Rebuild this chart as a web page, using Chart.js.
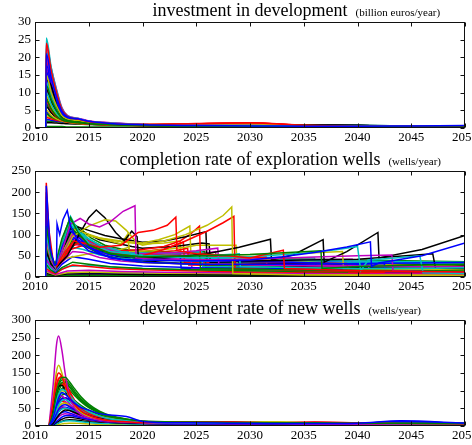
<!DOCTYPE html>
<html>
<head>
<meta charset="utf-8">
<script src="https://cdn.jsdelivr.net/npm/chart.js@4.4.1/dist/chart.umd.min.js"></script>
<style>
  html, body { margin: 0; padding: 0; background: #fff; width: 472px; height: 445px; overflow: hidden; }
  .panel { position: absolute; left: 0; width: 500px; height: 150px; }
  canvas { display: block; }
</style>
</head>
<body>
<div class="panel" style="top:0px"><canvas id="invest" width="500" height="150"></canvas></div>
<div class="panel" style="top:149px"><canvas id="completion" width="500" height="150"></canvas></div>
<div class="panel" style="top:298px"><canvas id="develop" width="500" height="150"></canvas></div>
<script>
// ---- tick labels ----
const yearTicks = [2010, 2015, 2020, 2025, 2030, 2035, 2040, 2045, 2050];
const investTicks = [0, 5, 10, 15, 20, 25, 30];
const completionTicks = [0, 50, 100, 150, 200, 250];
const developTicks = [0, 50, 100, 150, 200, 250, 300];

// ---- panel titles ----
const investTitle = ['investment in development', '(billion euros/year)'];
const completionTitle = ['completion rate of exploration wells', '(wells/year)'];
const developTitle = ['development rate of new wells', '(wells/year)'];

// colour cycle for the simulation runs
const runColors = ['#0000ff', '#008000', '#ff0000', '#00bfbf', '#bf00bf', '#bfbf00', '#000000'];

// ---- investment in development (billion euros/year), one row per run ----
const investYears = [2011, 2011.05, 2011.5, 2012, 2012.5, 2013, 2014, 2015, 2017, 2020, 2025, 2030, 2035, 2040, 2045, 2050];
const investRuns = [
  [0, 21, 14.3, 8.8, 4.8, 3.2, 2.6, 1.9, 1.3, 0.9, 0.7, 0.6, 0.5, 0.5, 0.6, 0.7],
  [0, 12, 8.2, 5.0, 2.8, 2.1, 1.7, 1.3, 1.0, 0.8, 0.6, 0.5, 0.4, 0.4, 0.3, 0.3],
  [0, 24, 16.3, 10.1, 5.3, 3.4, 2.5, 1.8, 1.3, 1.0, 1.2, 1.4, 0.8, 0.5, 0.4, 0.4],
  [0, 25.5, 17.3, 10.7, 5.6, 3.5, 2.7, 1.9, 1.4, 1.0, 0.8, 0.7, 0.6, 0.6, 0.5, 0.5],
  [0, 23, 17, 11, 5.8, 3.6, 2.8, 2.0, 1.5, 1.0, 0.8, 0.7, 0.6, 0.5, 0.5, 0.4],
  [0, 15, 10.2, 6.3, 3.5, 2.5, 2.1, 1.6, 1.2, 0.9, 1.0, 1.1, 0.7, 0.5, 0.4, 0.4],
  [0, 13.5, 12, 6.5, 3.3, 2.4, 1.9, 1.4, 1.1, 0.8, 0.7, 0.6, 0.8, 0.7, 0.5, 0.4],
  [0, 18, 12.2, 7.6, 4.1, 2.9, 2.4, 1.8, 1.3, 0.9, 0.7, 0.6, 0.5, 0.4, 0.4, 0.4],
  [0, 8, 5.4, 3.4, 2.3, 1.8, 1.5, 1.2, 1.0, 0.7, 0.6, 0.5, 0.4, 0.4, 0.3, 0.3],
  [0, 7.5, 5.1, 3.2, 2.2, 1.7, 1.4, 1.1, 0.9, 0.7, 0.9, 1.2, 0.6, 0.4, 0.3, 0.3],
  [0, 10, 6.8, 4.2, 2.6, 1.9, 1.6, 1.3, 1.0, 0.8, 0.6, 0.6, 0.5, 0.7, 0.6, 0.5],
  [0, 20, 13.6, 8.4, 4.6, 3.1, 2.5, 1.9, 1.4, 1.0, 0.8, 0.7, 0.5, 0.5, 0.4, 0.4],
  [0, 5, 3.6, 2.6, 2.0, 1.6, 1.3, 1.1, 0.9, 0.7, 0.7, 0.9, 0.6, 0.4, 0.3, 0.3],
  [0, 6, 4.3, 3.0, 2.2, 1.7, 1.4, 1.1, 0.9, 0.7, 0.6, 0.5, 0.7, 0.8, 0.5, 0.4],
  [0, 16, 10.9, 6.7, 3.7, 2.6, 2.2, 1.7, 1.2, 0.9, 0.7, 0.6, 0.5, 0.5, 0.6, 0.6],
  [0, 4, 3.1, 2.5, 2.0, 1.7, 1.5, 1.2, 1.0, 0.8, 0.6, 0.5, 0.4, 0.4, 0.3, 0.3],
  [0, 3, 2.6, 2.2, 1.9, 1.7, 1.5, 1.3, 1.1, 0.9, 1.1, 1.3, 0.7, 0.5, 0.4, 0.3],
  [0, 13, 8.8, 5.5, 3.1, 2.2, 1.8, 1.4, 1.1, 0.8, 0.7, 0.6, 0.5, 0.6, 0.6, 0.5],
  [0, 17, 11.6, 7.1, 3.9, 2.8, 2.3, 1.7, 1.3, 0.9, 0.8, 0.7, 0.6, 0.5, 0.4, 0.4],
  [0, 9, 6.1, 3.8, 2.4, 1.9, 1.6, 1.3, 1.0, 0.8, 0.9, 1.0, 0.6, 0.4, 0.4, 0.3],
  [0, 11, 7.5, 4.6, 2.8, 2.1, 1.7, 1.3, 1.0, 0.8, 0.6, 0.6, 0.8, 0.7, 0.5, 0.4],
  [0, 2.5, 2.2, 2.0, 1.8, 1.6, 1.4, 1.2, 1.0, 0.8, 0.6, 0.5, 0.5, 0.4, 0.5, 0.6],
  [0, 6.5, 4.5, 3.1, 2.2, 1.7, 1.4, 1.1, 0.9, 0.7, 0.6, 0.5, 0.4, 0.4, 0.3, 0.3],
  [0, 19, 12.9, 8.0, 4.4, 3.0, 2.4, 1.8, 1.3, 1.0, 1.3, 1.5, 0.8, 0.5, 0.4, 0.4],
  [0, 22, 15, 9.2, 5.0, 3.3, 2.6, 1.9, 1.4, 1.0, 0.8, 0.7, 0.6, 0.6, 0.5, 0.5],
  [0, 10.5, 7.1, 4.4, 2.7, 2.0, 1.6, 1.3, 1.0, 0.8, 0.7, 0.6, 0.5, 0.5, 0.4, 0.4],
  [0, 3.5, 2.9, 2.4, 2.0, 1.7, 1.4, 1.2, 1.0, 0.8, 0.8, 1.0, 0.6, 0.4, 0.3, 0.3],
  [0, 1.5, 1.5, 1.4, 1.3, 1.2, 1.1, 1.0, 0.9, 0.7, 0.6, 0.5, 0.6, 0.7, 0.5, 0.4],
  [0, 4.5, 3.4, 2.6, 2.1, 1.8, 1.5, 1.2, 1.0, 0.8, 0.6, 0.5, 0.5, 0.4, 0.4, 0.5],
  [0, 0.4, 0.4, 0.4, 0.4, 0.3, 0.3, 0.3, 0.3, 0.3, 0.3, 0.3, 0.3, 0.2, 0.2, 0.2],
  [0, 21.5, 14.6, 9.0, 4.9, 3.2, 2.6, 1.9, 1.3, 1.0, 1.1, 1.3, 0.7, 0.5, 0.4, 0.4],
  [0, 15.5, 10.5, 6.5, 3.6, 2.6, 2.1, 1.6, 1.2, 0.9, 0.7, 0.6, 0.5, 0.6, 0.6, 0.5],
  [0, 24.5, 16.7, 10.3, 5.4, 3.5, 2.7, 2.0, 1.4, 1.0, 0.8, 0.7, 0.6, 0.5, 0.5, 0.4],
  [0, 12.5, 8.5, 5.3, 3.0, 2.2, 1.9, 1.4, 1.1, 0.8, 0.9, 1.0, 0.6, 0.4, 0.4, 0.3],
  [0, 8.5, 5.8, 3.6, 2.4, 1.8, 1.5, 1.2, 1.0, 0.7, 0.6, 0.5, 0.8, 0.7, 0.5, 0.4],
  [0, 13.5, 9.2, 5.7, 3.2, 2.3, 1.9, 1.5, 1.1, 0.8, 0.7, 0.6, 0.5, 0.5, 0.5, 0.6],
  [0, 10, 6.8, 4.2, 2.6, 2.0, 1.7, 1.3, 1.0, 0.8, 0.6, 0.5, 0.4, 0.4, 0.3, 0.3],
  [0, 16.5, 11.2, 6.9, 3.8, 2.7, 2.2, 1.7, 1.2, 0.9, 1.2, 1.4, 0.7, 0.5, 0.4, 0.4],
  [0, 19.5, 13.3, 8.2, 4.5, 3.0, 2.5, 1.8, 1.3, 0.9, 0.8, 0.7, 0.6, 0.7, 0.6, 0.5],
  [0, 14.5, 9.9, 6.1, 3.4, 2.5, 2.0, 1.5, 1.2, 0.9, 0.7, 0.6, 0.5, 0.5, 0.4, 0.4],
  [0, 20.5, 13.9, 8.6, 4.7, 3.1, 2.5, 1.9, 1.4, 1.0, 1.0, 1.1, 0.7, 0.5, 0.4, 0.4],
  [0, 4, 3.2, 2.6, 2.1, 1.8, 1.6, 1.3, 1.0, 0.8, 0.6, 0.5, 0.8, 0.7, 0.5, 0.4],
  [0, 7, 4.8, 3.2, 2.3, 1.8, 1.5, 1.2, 1.0, 0.8, 0.6, 0.5, 0.5, 0.4, 0.5, 0.6],
  [0, 2, 1.9, 1.8, 1.7, 1.5, 1.3, 1.1, 0.9, 0.7, 0.6, 0.5, 0.4, 0.4, 0.3, 0.3],
  [0, 11.5, 7.8, 4.8, 2.9, 2.1, 1.7, 1.3, 1.0, 0.8, 1.0, 1.2, 0.6, 0.4, 0.4, 0.3]
];

// ---- completion rate of exploration wells (wells/year): [year, rate] points per run ----
const completionRuns = [
  [[2011,0],[2011.05,215],[2011.4,70],[2011.8,28],[2012,30],[2012.05,125],[2012.3,100],[2012.6,135],[2013,157],[2013.3,120],[2014,85],[2015,62],[2016.5,50],[2018,42],[2020,40],[2025,38],[2030,40],[2033,48],[2036,58],[2039,71],[2041.2,83],[2041.3,25],[2042,33],[2046,50],[2050,80]],
  [[2011,0],[2011.05,120],[2011.5,50],[2011.9,30],[2012.5,90],[2013.3,140],[2014,105],[2015,75],[2017,55],[2020,48],[2025,50],[2030,53],[2036.6,62],[2036.7,20],[2040,25],[2045,28],[2050,30]],
  [[2011,0],[2011.05,222],[2011.3,110],[2011.7,35],[2012,25],[2012.8,60],[2013.6,85],[2014.5,80],[2016,70],[2018,75],[2019.6,105],[2021,110],[2022.3,122],[2023.1,141],[2023.2,62],[2025,55],[2028,50],[2030,45],[2033.1,63],[2033.2,20],[2040,15],[2050,12]],
  [[2011,0],[2011.05,100],[2011.5,45],[2011.9,25],[2012.5,85],[2013.3,143],[2014,110],[2015,80],[2017,60],[2020,50],[2025,45],[2030,48],[2035,56],[2038,64],[2040,72],[2040.3,15],[2041,40],[2043.5,45],[2045.8,50],[2046.1,10],[2050,8]],
  [[2011,0],[2011.05,90],[2011.5,40],[2011.9,22],[2012.5,60],[2013.3,125],[2014.2,138],[2015,125],[2016,118],[2017,130],[2018.2,155],[2019.3,168],[2019.4,45],[2021,42],[2025,40],[2030,42],[2036,47],[2040,50],[2043.2,52],[2043.3,15],[2050,10]],
  [[2011,0],[2011.05,80],[2011.5,40],[2011.8,26],[2012.5,45],[2013.5,95],[2015,120],[2016.5,135],[2017.5,132],[2018.5,110],[2019.5,80],[2020,75],[2022,85],[2024,100],[2026,122],[2027.5,145],[2028.3,165],[2028.4,8],[2035,5],[2050,3]],
  [[2011,0],[2011.05,60],[2011.5,30],[2011.9,20],[2013,50],[2014,95],[2015,140],[2015.7,158],[2016.5,140],[2017.5,105],[2018.3,85],[2019,108],[2019.5,95],[2019.6,50],[2022,45],[2026,55],[2029,70],[2031.9,89],[2032,40],[2034,52],[2036.8,88],[2036.9,35],[2039,60],[2041.9,105],[2042,45],[2046,65],[2050,98]],
  [[2011,0],[2011.05,150],[2011.4,60],[2011.8,25],[2012.5,70],[2013.2,110],[2014,95],[2015,70],[2017,45],[2020,35],[2025,30],[2030,30],[2035,30],[2040,32],[2045,33],[2050,34]],
  [[2011,0],[2011.05,70],[2011.5,35],[2011.9,20],[2012.5,60],[2013.2,120],[2014,100],[2015,80],[2016.5,60],[2018,50],[2020,45],[2024,48],[2025.3,52],[2025.4,20],[2030,18],[2040,15],[2050,14]],
  [[2011,0],[2011.05,180],[2011.4,70],[2011.8,25],[2012.5,40],[2013.5,75],[2014.5,82],[2015.5,70],[2017,58],[2019,52],[2020,50],[2022,65],[2024,85],[2026,108],[2027.5,128],[2028.5,143],[2028.6,20],[2035,15],[2045,12],[2050,11]],
  [[2011,0],[2011.05,50],[2011.5,30],[2011.9,18],[2012.5,70],[2013.3,130],[2014,110],[2015,90],[2016,75],[2018,60],[2020,52],[2023,48],[2026,50],[2029,55],[2029.1,25],[2035,22],[2040,20],[2046,20],[2050,22]],
  [[2011,0],[2011.05,40],[2011.5,25],[2011.9,15],[2012.5,50],[2013.5,100],[2014.5,90],[2016,70],[2018,58],[2020,55],[2023,58],[2025,62],[2027,68],[2027.1,30],[2032,28],[2038,26],[2044,25],[2050,24]],
  [[2011,0],[2011.05,110],[2011.5,45],[2011.9,24],[2012.8,70],[2013.7,112],[2014.5,105],[2016,92],[2018,85],[2020,80],[2021.5,88],[2023,100],[2024.4,120],[2024.5,55],[2028,52],[2033,54],[2036,57],[2038.6,60],[2038.7,20],[2045,18],[2050,16]],
  [[2011,0],[2011.05,90],[2011.5,40],[2011.9,22],[2012.5,60],[2013.3,105],[2014,118],[2015,110],[2016.5,98],[2018,90],[2020,82],[2022,85],[2024,95],[2025.9,107],[2026,40],[2030,38],[2035,40],[2040,42],[2047,55],[2047.3,15],[2050,15]],
  [[2011,0],[2011.05,130],[2011.4,50],[2011.8,22],[2012.5,65],[2013.4,95],[2014.2,85],[2015.5,65],[2017,52],[2020,44],[2024,40],[2028,38],[2034,35],[2040,30],[2042.5,32],[2042.6,12],[2050,10]],
  [[2011,0],[2011.05,60],[2011.5,28],[2011.9,16],[2012.5,45],[2013.4,85],[2014.5,75],[2016,55],[2018,42],[2020,35],[2025,30],[2030,26],[2035,22],[2040,19],[2045,17],[2050,16]],
  [[2011,0],[2011.05,200],[2011.3,90],[2011.7,30],[2012.3,35],[2013.3,65],[2014.5,75],[2016,65],[2018,62],[2020,65],[2022,72],[2023.5,85],[2024.5,102],[2025.3,120],[2025.4,40],[2028,38],[2033,35],[2039,32],[2039.2,12],[2050,10]],
  [[2011,0],[2011.05,35],[2011.5,20],[2011.9,14],[2012.5,40],[2013.5,70],[2014.5,65],[2016,52],[2018,44],[2020,40],[2025,38],[2030,36],[2035,35],[2040,34],[2045,33],[2050,33]],
  [[2011,0],[2011.05,55],[2011.5,28],[2011.9,16],[2012.5,35],[2013.5,60],[2014.5,58],[2016,46],[2018,38],[2020,34],[2025,30],[2030,28],[2035,27],[2041,26],[2041.2,10],[2050,8]],
  [[2011,0],[2011.05,70],[2011.5,35],[2011.8,25],[2013,45],[2015,55],[2017,58],[2018.7,70],[2019,42],[2022,40],[2026,40],[2030,42],[2034,38],[2040,30],[2050,25]],
  [[2011,0],[2011.05,100],[2011.5,40],[2011.9,20],[2012.5,70],[2013.3,115],[2014,100],[2015,80],[2016.5,58],[2018,45],[2020,38],[2025,30],[2030,27],[2035,24],[2040,22],[2045,20],[2050,19]],
  [[2011,0],[2011.05,40],[2011.5,22],[2011.9,12],[2012.5,30],[2013.5,48],[2015,42],[2017,32],[2020,26],[2025,22],[2030,20],[2035,19],[2040,18],[2045,17],[2050,16]],
  [[2011,0],[2011.05,30],[2011.5,16],[2011.9,10],[2012.5,22],[2013.5,35],[2015,30],[2017,24],[2020,20],[2025,17],[2030,15],[2035,13],[2040,12],[2045,11],[2050,10]],
  [[2011,0],[2011.05,20],[2011.5,12],[2011.9,8],[2012.5,18],[2013.5,28],[2015,25],[2017,20],[2020,17],[2025,14],[2030,12],[2035,11],[2040,10],[2045,9],[2050,8]],
  [[2011,0],[2011.05,25],[2011.5,14],[2011.9,10],[2013,25],[2015,28],[2018,22],[2022,18],[2028,15],[2035,14],[2042,13],[2050,12]],
  [[2011,0],[2011.05,15],[2011.5,10],[2011.9,6],[2013,14],[2015,16],[2018,13],[2022,11],[2028,10],[2035,9],[2042,8],[2050,8]],
  [[2011,0],[2011.05,12],[2011.5,8],[2011.9,5],[2013,10],[2015,12],[2018,10],[2022,9],[2028,8],[2035,7],[2042,6],[2050,6]],
  [[2011,0],[2011.05,8],[2011.9,4],[2013,7],[2016,7],[2020,6],[2030,5],[2040,4],[2050,4]],
  [[2011,0],[2011.05,10],[2011.9,5],[2013,8],[2016,9],[2020,8],[2030,7],[2040,6],[2050,6]],
  [[2011,0],[2011.05,5],[2011.9,3],[2013,4],[2020,3],[2030,3],[2040,2],[2050,2]],
  [[2011,0],[2011.05,160],[2011.4,60],[2011.8,22],[2012.5,55],[2013.4,100],[2014.3,95],[2015.5,78],[2017,62],[2019,55],[2021,52],[2024,50],[2027,48],[2030,46],[2031.5,47],[2031.6,18],[2040,16],[2050,14]],
  [[2011,0],[2011.05,75],[2011.5,35],[2011.9,20],[2012.6,65],[2013.5,118],[2014.3,100],[2015.5,78],[2017,64],[2019,58],[2021,56],[2023,57],[2025.5,60],[2025.6,25],[2033,24],[2040,22],[2050,20]],
  [[2011,0],[2011.05,65],[2011.5,30],[2011.9,18],[2012.5,50],[2013.8,92],[2014.8,88],[2016,72],[2018,60],[2020,54],[2022,50],[2024.5,52],[2024.6,20],[2035,18],[2050,15]],
  [[2011,0],[2011.05,95],[2011.5,45],[2011.7,27],[2012.2,40],[2013,70],[2014,92],[2015,98],[2016.5,88],[2018,78],[2018.6,100],[2018.8,60],[2021,62],[2024,70],[2025,75],[2028.7,75],[2028.8,30],[2035,25],[2050,18]],
  [[2011,0],[2011.05,85],[2011.5,35],[2011.9,20],[2012.5,55],[2013.3,118],[2014,112],[2015,100],[2016,88],[2017.5,80],[2019,72],[2020,68],[2023,72],[2025.5,80],[2026.2,78],[2026.3,35],[2033,33],[2040,30],[2050,28]],
  [[2011,0],[2011.05,110],[2011.4,45],[2011.8,20],[2012.5,55],[2013.5,90],[2014.5,75],[2016,58],[2018,50],[2020,47],[2023.5,52],[2023.6,20],[2030,18],[2040,16],[2050,15]],
  [[2011,0],[2011.05,90],[2011.5,40],[2011.9,22],[2012.5,70],[2013.4,128],[2014.2,115],[2015.2,92],[2016.5,75],[2018,66],[2020,60],[2022,58],[2024,58],[2025.8,60],[2025.9,22],[2035,20],[2050,18]],
  [[2011,0],[2011.05,140],[2011.4,55],[2011.8,22],[2012.5,45],[2013.5,82],[2014.5,78],[2016,66],[2018,60],[2020,60],[2022,66],[2023.8,82],[2023.9,35],[2030,33],[2040,30],[2050,28]],
  [[2011,0],[2011.05,60],[2011.5,30],[2011.9,18],[2012.5,55],[2013.4,105],[2014.3,92],[2015.5,72],[2017,58],[2020,50],[2025,45],[2030,42],[2035,40],[2040,38],[2045,36],[2050,35]],
  [[2011,0],[2011.05,45],[2011.5,25],[2011.9,15],[2012.6,45],[2013.6,78],[2014.6,72],[2016,58],[2018,50],[2020,46],[2025,44],[2030,42],[2035,41],[2039.5,42],[2039.6,15],[2050,12]],
  [[2011,0],[2011.05,50],[2011.5,28],[2011.8,20],[2012.6,50],[2013.6,88],[2014.6,80],[2016,64],[2018,54],[2020,48],[2024,44],[2028,42],[2032,40],[2034.5,42],[2034.6,12],[2050,8]],
  [[2011,0],[2011.05,70],[2011.5,30],[2011.9,18],[2012.7,48],[2013.8,80],[2015,72],[2016.5,58],[2018,48],[2020,42],[2025,38],[2030,35],[2035,33],[2040,31],[2045,30],[2050,29]],
  [[2011,0],[2011.05,120],[2011.4,50],[2011.8,24],[2012.4,60],[2013.1,108],[2013.8,100],[2015,75],[2017,55],[2020,45],[2025,40],[2030,38],[2036,36],[2044,34],[2050,33]],
  [[2011,0],[2011.05,105],[2011.5,45],[2011.9,25],[2012.4,75],[2013.2,135],[2013.9,118],[2015,88],[2016.5,68],[2018,58],[2020,52],[2025,48],[2030,45],[2035,42],[2040,40],[2050,36]],
  [[2011,0],[2011.05,190],[2011.3,85],[2011.7,28],[2012.3,40],[2013.2,72],[2014,78],[2015,70],[2017,60],[2019,56],[2021,58],[2023,62],[2024.2,68],[2024.3,28],[2032,25],[2042,22],[2050,20]],
  [[2011,0],[2011.05,85],[2011.5,40],[2011.9,22],[2012.5,72],[2013.2,125],[2013.9,112],[2015,90],[2016.5,70],[2018,60],[2020,54],[2024,50],[2028,48],[2032,46],[2036,45],[2036.2,18],[2050,14]],
  [[2011,0],[2011.05,70],[2011.5,32],[2011.9,20],[2012.6,55],[2013.6,95],[2014.5,92],[2016,75],[2018,62],[2020,56],[2023,55],[2026,57],[2026.8,60],[2026.9,25],[2035,22],[2050,18]],
  [[2011,0],[2011.05,65],[2011.5,32],[2011.8,24],[2012.6,50],[2013.6,85],[2014.8,100],[2016,92],[2017.5,85],[2019,80],[2020,78],[2022,80],[2023.5,85],[2023.6,35],[2030,30],[2040,25],[2050,22]]
];

// ---- development rate of new wells (wells/year), one row per run ----
const developYears = [2011.3, 2011.7, 2012, 2012.2, 2012.5, 2012.8, 2013.2, 2013.7, 2014.3, 2015, 2016, 2017, 2018.5, 2020, 2024, 2028, 2032, 2036, 2040, 2044, 2050];
const developRuns = [
  [0, 25, 60, 80, 95, 90, 78, 64, 52, 45, 35, 31, 27, 13, 9, 8, 7, 7, 8, 15, 8],
  [0, 40, 95, 120, 137, 138, 125, 105, 82, 62, 42, 30, 20, 14, 11, 10, 9, 9, 8, 8, 7],
  [0, 70, 135, 150, 140, 115, 85, 60, 42, 30, 20, 15, 12, 10, 12, 12, 9, 11, 9, 7, 6],
  [0, 30, 70, 90, 103, 100, 88, 70, 53, 40, 28, 20, 15, 11, 9, 8, 8, 8, 9, 7, 6],
  [0, 120, 230, 255, 215, 150, 85, 50, 32, 23, 16, 13, 11, 9, 8, 7, 7, 6, 6, 5, 5],
  [0, 85, 155, 172, 150, 115, 80, 55, 38, 27, 19, 15, 12, 10, 9, 10, 12, 9, 7, 6, 5],
  [0, 45, 95, 112, 115, 100, 78, 57, 40, 30, 21, 16, 12, 10, 8, 8, 7, 9, 8, 6, 5],
  [0, 15, 35, 48, 58, 60, 55, 46, 37, 29, 21, 16, 12, 9, 7, 7, 6, 6, 6, 12, 7],
  [0, 35, 85, 108, 123, 125, 112, 92, 72, 55, 38, 27, 18, 13, 10, 9, 9, 8, 8, 7, 7],
  [0, 50, 110, 132, 140, 128, 100, 72, 50, 36, 24, 18, 13, 10, 11, 11, 8, 10, 8, 6, 5],
  [0, 20, 45, 60, 72, 75, 68, 57, 45, 35, 25, 19, 14, 10, 8, 8, 7, 7, 9, 7, 6],
  [0, 30, 65, 80, 85, 78, 64, 48, 36, 27, 19, 15, 11, 9, 7, 7, 6, 6, 6, 5, 5],
  [0, 30, 70, 88, 100, 97, 85, 68, 52, 40, 28, 21, 15, 11, 9, 9, 11, 8, 7, 6, 5],
  [0, 8, 22, 30, 40, 45, 44, 38, 31, 24, 17, 13, 10, 8, 7, 7, 6, 7, 7, 5, 4],
  [0, 5, 13, 18, 25, 29, 30, 27, 23, 19, 15, 12, 10, 8, 6, 6, 5, 5, 5, 9, 6],
  [0, 25, 65, 88, 106, 110, 102, 86, 68, 52, 36, 26, 17, 12, 10, 9, 8, 8, 8, 7, 7],
  [0, 40, 95, 115, 120, 108, 86, 64, 46, 34, 23, 17, 13, 10, 11, 10, 8, 9, 8, 6, 5],
  [0, 12, 30, 40, 48, 50, 47, 40, 33, 26, 19, 15, 11, 9, 7, 7, 7, 7, 8, 6, 6],
  [0, 8, 20, 26, 32, 35, 33, 28, 23, 18, 14, 11, 9, 7, 6, 6, 5, 5, 5, 4, 4],
  [0, 18, 42, 54, 63, 65, 60, 50, 40, 31, 22, 17, 13, 10, 8, 8, 10, 7, 6, 5, 5],
  [0, 3, 10, 14, 19, 23, 25, 23, 20, 16, 12, 10, 8, 7, 6, 6, 5, 6, 6, 5, 4],
  [0, 22, 52, 67, 78, 80, 73, 61, 49, 38, 27, 21, 15, 11, 8, 8, 7, 7, 7, 13, 7],
  [0, 22, 55, 72, 87, 90, 84, 72, 58, 45, 32, 23, 16, 12, 9, 9, 8, 8, 8, 7, 6],
  [0, 22, 50, 62, 70, 66, 56, 44, 34, 26, 19, 14, 11, 9, 10, 10, 7, 9, 7, 5, 5],
  [0, 2, 6, 9, 12, 14, 15, 14, 12, 10, 8, 7, 6, 5, 5, 5, 5, 5, 7, 5, 5],
  [0, 18, 40, 50, 55, 52, 45, 36, 28, 22, 16, 12, 10, 8, 6, 6, 6, 5, 5, 5, 4],
  [0, 1, 3, 4, 6, 7, 8, 8, 7, 6, 5, 5, 4, 4, 4, 4, 5, 4, 4, 3, 3],
  [0, 2, 6, 9, 13, 16, 18, 17, 15, 12, 9, 8, 6, 5, 5, 5, 5, 6, 6, 4, 4],
  [0, 10, 25, 32, 38, 40, 37, 31, 26, 21, 16, 13, 10, 8, 6, 6, 5, 5, 5, 10, 6],
  [0, 38, 90, 114, 130, 131, 118, 98, 76, 58, 40, 28, 19, 13, 10, 9, 9, 8, 8, 7, 7],
  [0, 55, 115, 135, 138, 122, 95, 70, 50, 37, 25, 18, 13, 10, 11, 11, 8, 10, 8, 6, 5],
  [0, 28, 62, 80, 92, 92, 84, 70, 55, 43, 31, 23, 16, 12, 9, 8, 8, 8, 9, 7, 6],
  [0, 25, 55, 68, 74, 70, 60, 46, 35, 27, 19, 15, 11, 9, 7, 7, 6, 6, 6, 5, 5],
  [0, 40, 90, 110, 118, 110, 92, 72, 55, 42, 30, 22, 15, 11, 9, 9, 11, 8, 7, 6, 5],
  [0, 20, 50, 65, 78, 80, 74, 62, 50, 39, 28, 21, 15, 11, 8, 8, 7, 9, 8, 6, 5],
  [0, 12, 30, 40, 50, 53, 50, 43, 36, 29, 22, 18, 15, 10, 7, 7, 6, 6, 7, 13, 7],
  [0, 30, 75, 98, 117, 120, 110, 92, 72, 55, 38, 27, 18, 13, 10, 9, 9, 8, 8, 7, 7],
  [0, 15, 35, 45, 52, 52, 47, 39, 31, 24, 17, 13, 10, 8, 9, 9, 7, 8, 7, 5, 5]
];

Chart.defaults.font.family = '"Liberation Serif", "Times New Roman", serif';
Chart.defaults.font.size = 13;
Chart.defaults.color = '#000';

// boxed axes with inward ticks on all four sides, plus a two-part title
const boxPlugin = {
  id: 'box',
  afterDatasetsDraw(chart, args, opts) {
    const { ctx, chartArea: a, scales: { x, y } } = chart;
    const L = Math.round(a.left) + 0.5, R = Math.round(a.right) - 0.5;
    const T = Math.round(a.top) + 0.5, B = Math.round(a.bottom) - 0.5;
    ctx.save();
    ctx.strokeStyle = '#111';
    ctx.lineWidth = 1;
    ctx.strokeRect(L, T, R - L, B - T);
    ctx.beginPath();
    x.ticks.forEach(t => {
      const px = Math.round(x.getPixelForValue(t.value)) + 0.5;
      ctx.moveTo(px, B); ctx.lineTo(px, B - 4);
      ctx.moveTo(px, T); ctx.lineTo(px, T + 4);
    });
    y.ticks.forEach(t => {
      const py = Math.round(y.getPixelForValue(t.value)) + 0.5;
      ctx.moveTo(L, py); ctx.lineTo(L + 4, py);
      ctx.moveTo(R, py); ctx.lineTo(R - 4, py);
    });
    ctx.stroke();

    // title: main text centred over the plot, unit text in small type after it
    const [main, unit] = opts.text;
    const base = a.top - 6;
    ctx.fillStyle = '#000';
    ctx.textBaseline = 'alphabetic';
    ctx.font = '18px "Liberation Serif", serif';
    const w = ctx.measureText(main).width;
    const cx = (a.left + a.right) / 2;
    ctx.textAlign = 'left';
    ctx.fillText(main, cx - w / 2, base);
    ctx.font = '11px "Liberation Serif", serif';
    ctx.fillText(unit, cx + w / 2 + 8, base);
    ctx.restore();
  }
};

function makeChart(id, datasets, yTicks, title, smooth) {
  const yMax = yTicks[yTicks.length - 1];
  return new Chart(document.getElementById(id), {
    type: 'line',
    data: { datasets },
    options: {
      responsive: false,
      animation: false,
      events: [],
      layout: { padding: { top: 22, right: 35, left: 0, bottom: 0 } },
      elements: {
        point: { radius: 0 },
        line: { borderWidth: 1.5, tension: 0, cubicInterpolationMode: smooth ? 'monotone' : 'default' }
      },
      plugins: {
        legend: { display: false },
        tooltip: { enabled: false },
        box: { text: title }
      },
      scales: {
        x: {
          type: 'linear', min: 2010, max: 2050,
          grid: { display: false, drawTicks: false, tickLength: 0 }, border: { display: false },
          afterBuildTicks: s => { s.ticks = yearTicks.map(v => ({ value: v })); },
          afterFit: s => { s.height = 22; },
          ticks: { padding: 2, maxRotation: 0, autoSkip: false, callback: v => String(v) }
        },
        y: {
          type: 'linear', min: 0, max: yMax,
          grid: { display: false, drawTicks: false, tickLength: 0 }, border: { display: false },
          afterBuildTicks: s => { s.ticks = yTicks.map(v => ({ value: v })); },
          afterFit: s => { s.width = 35; },
          ticks: { padding: 4, autoSkip: false, callback: v => String(v) }
        }
      }
    },
    plugins: [boxPlugin]
  });
}

function seriesFromRows(years, rows) {
  return rows.map((row, i) => ({
    data: row.map((v, k) => ({ x: years[k], y: v })),
    borderColor: runColors[i % runColors.length],
    fill: false
  }));
}

const investSets = seriesFromRows(investYears, investRuns);
const completionSets = completionRuns.map((run, i) => ({
  data: run,
  borderColor: runColors[i % runColors.length],
  fill: false
}));
const developSets = seriesFromRows(developYears, developRuns);

makeChart('invest', investSets, investTicks, investTitle, true);
makeChart('completion', completionSets, completionTicks, completionTitle, false);
makeChart('develop', developSets, developTicks, developTitle, true);
</script>
</body>
</html>
